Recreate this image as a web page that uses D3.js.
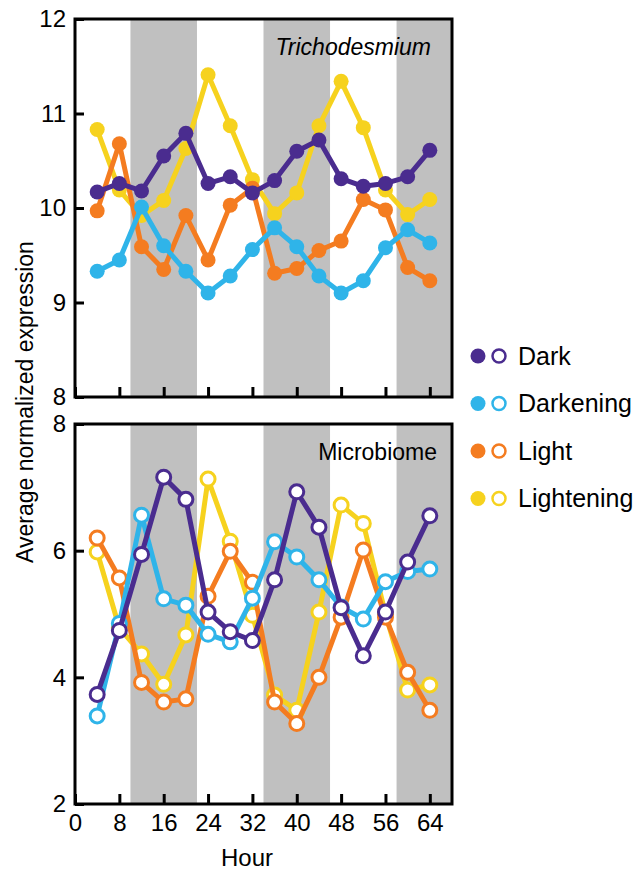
<!DOCTYPE html>
<html>
<head>
<meta charset="utf-8">
<script src="https://cdn.jsdelivr.net/npm/d3@7"></script>
<style>
  body { margin: 0; background: #fff; }
  svg text { font-family: "Liberation Sans", Arial, sans-serif; fill: #000; }
</style>
</head>
<body>
<svg width="641" height="870"></svg>
<script>
const hours = [4, 8, 12, 16, 20, 24, 28, 32, 36, 40, 44, 48, 52, 56, 60, 64];
const darkBands = [[10, 22], [34, 46], [58, 68]];
const seriesNames = ["Dark", "Darkening", "Light", "Lightening"];
const seriesColors = ["#4a2c8f", "#2fb4e9", "#f47c20", "#f6d21e"];
const xTicks = [0, 8, 16, 24, 32, 40, 48, 56, 64];
const trichoTicks = [8, 9, 10, 11, 12];
const microTicks = [2, 4, 6, 8];

// Trichodesmium
const trichoDark = [10.17, 10.26, 10.18, 10.55, 10.79, 10.26, 10.33, 10.16, 10.29, 10.60, 10.72, 10.31, 10.23, 10.26, 10.33, 10.61];
const trichoDarkening = [9.33, 9.45, 10.01, 9.60, 9.33, 9.10, 9.28, 9.56, 9.79, 9.59, 9.28, 9.10, 9.23, 9.58, 9.77, 9.63];
const trichoLight = [9.97, 10.68, 9.59, 9.35, 9.92, 9.45, 10.03, 10.21, 9.31, 9.36, 9.55, 9.65, 10.09, 9.98, 9.37, 9.23];
const trichoLightening = [10.83, 10.19, 9.92, 10.08, 10.63, 11.41, 10.87, 10.30, 9.94, 10.16, 10.87, 11.34, 10.85, 10.19, 9.93, 10.09];

// Microbiome
const microDark = [3.73, 4.74, 5.94, 7.16, 6.81, 5.03, 4.72, 4.58, 5.54, 6.93, 6.37, 5.10, 4.34, 5.03, 5.82, 6.55];
const microDarkening = [3.39, 4.85, 6.56, 5.24, 5.14, 4.68, 4.56, 5.25, 6.14, 5.90, 5.54, 5.11, 4.92, 5.51, 5.67, 5.71];
const microLight = [6.20, 5.57, 3.92, 3.61, 3.66, 5.28, 5.99, 5.50, 3.61, 3.27, 4.00, 4.95, 6.01, 4.95, 4.08, 3.48];
const microLightening = [5.98, 4.78, 4.37, 3.89, 4.67, 7.13, 6.15, 4.98, 3.72, 3.48, 5.03, 6.72, 6.43, 5.00, 3.80, 3.88];

const svg = d3.select("svg");
const left = 75, right = 452;

const x = d3.scaleLinear().domain([0, 68]).range([left, right]);

const drawOrder = [3, 2, 1, 0];

function panel(cfg) {
    const y = d3.scaleLinear().domain(cfg.domain).range([cfg.bottom, cfg.top]);
    const g = svg.append("g");

    g.selectAll("rect.band")
        .data(darkBands)
        .enter().append("rect")
        .attr("class", "band")
        .attr("x", d => x(d[0]))
        .attr("width", d => x(d[1]) - x(d[0]))
        .attr("y", cfg.top)
        .attr("height", cfg.bottom - cfg.top)
        .attr("fill", "#c0c0c0");

    const line = d3.line().x((d, i) => x(hours[i])).y(d => y(d));

    drawOrder.forEach(k => {
        const vals = cfg.series[k];
        g.append("path")
            .datum(vals)
            .attr("d", line)
            .attr("fill", "none")
            .attr("stroke", seriesColors[k])
            .attr("stroke-width", 5)
            .attr("stroke-linejoin", "round");
        g.selectAll(".dot" + k)
            .data(vals)
            .enter().append("circle")
            .attr("class", "dot" + k)
            .attr("cx", (d, i) => x(hours[i]))
            .attr("cy", d => y(d))
            .attr("r", cfg.open ? 7 : 7.5)
            .attr("fill", cfg.open ? "#fff" : seriesColors[k])
            .attr("stroke", cfg.open ? seriesColors[k] : "none")
            .attr("stroke-width", 3);
    });

    // frame
    g.append("rect")
        .attr("x", left).attr("y", cfg.top)
        .attr("width", right - left).attr("height", cfg.bottom - cfg.top)
        .attr("fill", "none").attr("stroke", "#000").attr("stroke-width", 3);

    const yAxis = g.append("g")
        .attr("transform", `translate(${left},0)`)
        .call(d3.axisLeft(y).tickValues(cfg.ticks).tickSize(-9).tickPadding(9).tickFormat(d3.format("d")));
    yAxis.select(".domain").remove();
    yAxis.selectAll("line").attr("stroke-width", 3);
    yAxis.selectAll("text").style("font-size", "24px");

    const xAxis = g.append("g")
        .attr("transform", `translate(0,${cfg.bottom})`)
        .call(d3.axisBottom(x).tickValues(xTicks).tickSize(-10).tickPadding(10)
            .tickFormat(cfg.xLabels ? d3.format("d") : ""));
    xAxis.select(".domain").remove();
    xAxis.selectAll("line").attr("stroke-width", 3);
    xAxis.selectAll("text").style("font-size", "24px");

    g.append("text")
        .attr("x", cfg.titleX)
        .attr("y", cfg.top + 36)
        .attr("text-anchor", "end")
        .style("font-size", "23px")
        .style("font-style", cfg.italic ? "italic" : "normal")
        .text(cfg.title);
}

panel({
    top: 19, bottom: 397, domain: [8, 12], ticks: trichoTicks,
    series: [trichoDark, trichoDarkening, trichoLight, trichoLightening],
    open: false, xLabels: false, title: "Trichodesmium", italic: true, titleX: 431
});

panel({
    top: 424, bottom: 804, domain: [2, 8], ticks: microTicks,
    series: [microDark, microDarkening, microLight, microLightening],
    open: true, xLabels: true, title: "Microbiome", italic: false, titleX: 437
});

svg.append("text")
    .attr("x", 247).attr("y", 866)
    .attr("text-anchor", "middle")
    .style("font-size", "24px")
    .text("Hour");

svg.append("text")
    .attr("transform", "translate(33,402) rotate(-90)")
    .attr("text-anchor", "middle")
    .style("font-size", "23px")
    .text("Average normalized expression");

// legend
const legend = svg.append("g");
const rows = legend.selectAll("g")
    .data(seriesNames)
    .enter().append("g")
    .attr("transform", (d, i) => `translate(0,${356 + i * 47.5})`);
rows.append("circle")
    .attr("cx", 478).attr("cy", 0).attr("r", 7.5)
    .attr("fill", (d, i) => seriesColors[i]);
rows.append("circle")
    .attr("cx", 499).attr("cy", 0).attr("r", 6.5)
    .attr("fill", "#fff")
    .attr("stroke", (d, i) => seriesColors[i])
    .attr("stroke-width", 2.5);
rows.append("text")
    .attr("x", 518).attr("y", 0).attr("dy", "0.35em")
    .style("font-size", "25px")
    .text(d => d);
</script>
</body>
</html>
